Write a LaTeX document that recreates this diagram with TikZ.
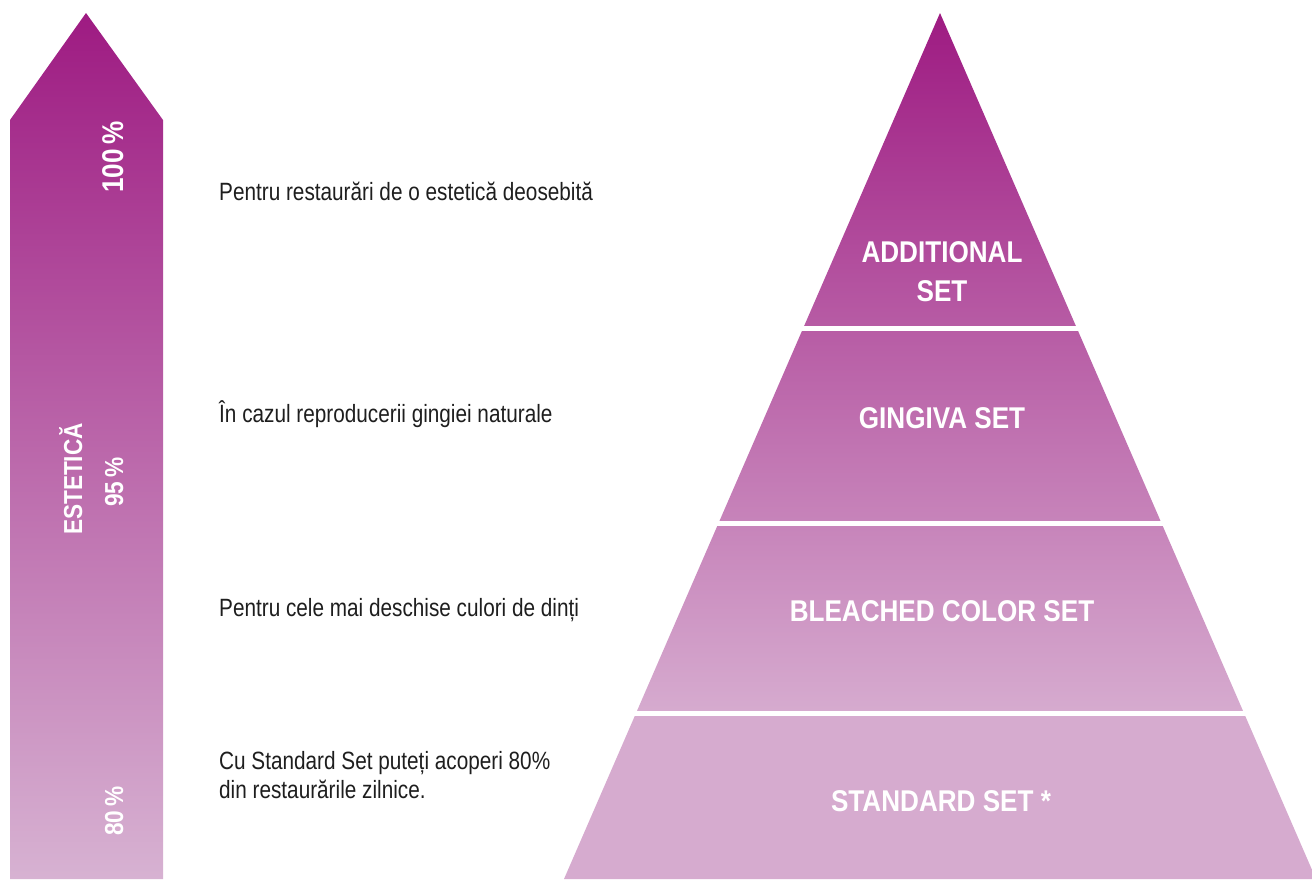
\documentclass[tikz,border=0pt]{standalone}
\usepackage{fontspec}
\setmainfont{Liberation Sans}
\newfontfamily\bodyfont[FakeStretch=0.83]{Liberation Sans}
\newfontfamily\labelfont[FakeStretch=0.87]{Liberation Sans}
\definecolor{plumdark}{HTML}{9E1B82}
\definecolor{plumlight}{HTML}{D6ABCF}
\definecolor{arrowlight}{HTML}{D7B2D2}
\definecolor{notetext}{HTML}{1E1E1E}
\begin{document}
\begin{tikzpicture}[x=1pt,y=-1pt,
  level/.style={font=\labelfont\bfseries\fontsize{30}{39}\selectfont,
    text=white, anchor=base, inner sep=0pt},
  side/.style={font=\labelfont\bfseries\fontsize{30}{36}\selectfont,
    text=white, anchor=base, rotate=90, inner sep=0pt},
  note/.style={font=\bodyfont\fontsize{25}{30}\selectfont,
    text=notetext, anchor=base west, inner sep=0pt}]
\useasboundingbox (0,0) rectangle (1312,879);
\pgfmathsetmacro{\ax}{940}
% arrow
\shade[top color=plumdark, bottom color=arrowlight]
  (10,879) -- (10,120) -- (86,13) -- (163,120) -- (163,879) -- cycle;
\node[side] (top) at (123,157) {100\,\%};
\node[side, font=\labelfont\bfseries\fontsize{26}{30}\selectfont] (est) at (82,479) {ESTETICĂ};
\node[side, font=\labelfont\bfseries\fontsize{26}{30}\selectfont] (mid) at (123,482) {95\,\%};
\node[side, font=\labelfont\bfseries\fontsize{26}{30}\selectfont] (low) at (123,811) {80\,\%};
% pyramid
\begin{scope}
\clip (\ax,13) -- (\ax+376,879) -- (\ax-376,879) -- cycle;
\shade[top color=plumdark, bottom color=plumlight] (550,13) rectangle (1330,713);
\fill[plumlight] (550,712) rectangle (1330,880);
\end{scope}
\foreach \y in {328.5,523.5,713}
  \draw[white, line width=5pt] (550,\y) -- (1330,\y);
\node[level] (add) at (\ax+2,262) {ADDITIONAL};
\node[level] (addset) at (\ax+2,301) {SET};
\node[level] (ging) at (\ax+2,428) {GINGIVA SET};
\node[level] (bleach) at (\ax+2,621) {BLEACHED COLOR SET};
\node[level] (std) at (\ax+1,811) {STANDARD SET *};
% notes
\node[note] (n1) at (219,200) {Pentru restaurări de o estetică deosebită};
\node[note] (n2) at (219,422) {În cazul reproducerii gingiei naturale};
\node[note] (n3) at (219,616) {Pentru cele mai deschise culori de dinți};
\node[note] (n4) at (219,769) {Cu Standard Set puteți acoperi 80\%};
\node[note] (n5) at (219,798) {din restaurările zilnice.};
\end{tikzpicture}
\end{document}
